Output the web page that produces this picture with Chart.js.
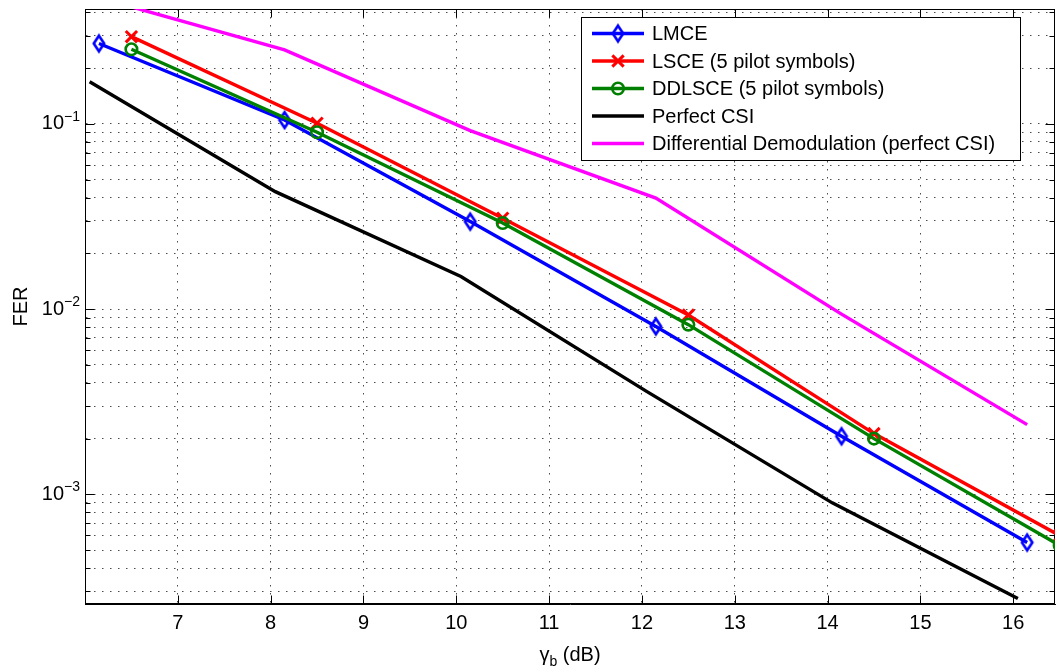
<!DOCTYPE html>
<html><head><meta charset="utf-8">
<script src="https://cdn.jsdelivr.net/npm/chart.js@4/dist/chart.umd.min.js"></script>
<style>html,body{margin:0;padding:0;background:#fff;overflow:hidden}canvas{display:block}</style>
</head><body>
<canvas id="c" width="1059" height="668"></canvas>
<script>
// ---- data ----
const seriesNames = ['LMCE', 'LSCE (5 pilot symbols)', 'DDLSCE (5 pilot symbols)', 'Perfect CSI', 'Differential Demodulation (perfect CSI)'];
const seriesColors = ['#0000ff', '#ff0000', '#008000', '#000000', '#ff00ff'];

const lmceX = [6.15, 8.15, 10.15, 12.15, 14.15, 16.15];
const lmceY = [0.272, 0.105, 0.0297, 0.00807, 0.00206, 0.00055];

const lsceX = [6.5, 8.5, 10.5, 12.5, 14.5, 16.5];
const lsceY = [0.296, 0.101, 0.031, 0.0093, 0.00213, 0.0006];

const ddlsceX = [6.5, 8.5, 10.5, 12.5, 14.5, 16.5];
const ddlsceY = [0.253, 0.0902, 0.0292, 0.00825, 0.0020, 0.00053];

const perfX = [6.05, 8.05, 10.05, 12.05, 14.05, 16.05];
const perfY = [0.169, 0.0431, 0.0150, 0.0036, 0.00090, 0.000274];

const diffX = [6.15, 8.15, 10.15, 12.15, 14.15, 16.15];
const diffY = [0.48, 0.251, 0.092, 0.0398, 0.0094, 0.00238];

const xTicks = [7, 8, 9, 10, 11, 12, 13, 14, 15, 16];
const yTicks = [0.0003, 0.0004, 0.0005, 0.0006, 0.0007, 0.0008, 0.0009,
                0.001, 0.002, 0.003, 0.004, 0.005, 0.006, 0.007, 0.008, 0.009,
                0.01, 0.02, 0.03, 0.04, 0.05, 0.06, 0.07, 0.08, 0.09,
                0.1, 0.2, 0.3, 0.4];
const yDecades = [0.001, 0.01, 0.1];
const yDecadeBase = ['10', '10', '10'];
const yDecadeExp = ['\u22123', '\u22122', '\u22121'];
const xTitleMain = '\u03B3';
const xTitleSub = 'b';
const xTitleRest = ' (dB)';
const yTitle = 'FER';

const X_MIN = 6, X_MAX = 16.45, Y_MIN = 2.56e-4, Y_MAX = 0.4175;
const FONT = '"Liberation Sans", Arial, Helvetica, sans-serif';
const LINE_W = 3.4;

// ---- marker helpers ----
function diamondImage(color) {
  const c = document.createElement('canvas'); c.width = 16; c.height = 22;
  const g = c.getContext('2d'); g.strokeStyle = color; g.lineWidth = 2.6;
  g.beginPath(); g.moveTo(8, 3.2); g.lineTo(13.2, 11); g.lineTo(8, 18.8); g.lineTo(2.8, 11); g.closePath(); g.stroke();
  return c;
}
const diamond = diamondImage(seriesColors[0]);
const pts = (xs, ys) => xs.map((x, i) => ({x: x, y: ys[i]}));
const markerKinds = ['diamond', 'cross', 'circle', null, null];

function makeDataset(i, xs, ys, extra) {
  return Object.assign({
    label: seriesNames[i], data: pts(xs, ys), borderColor: seriesColors[i], backgroundColor: 'transparent',
    borderWidth: LINE_W, fill: false, tension: 0, clip: 0, pointRadius: 0, order: 4 - i
  }, extra || {});
}

const datasets = [
  makeDataset(0, lmceX, lmceY, {pointStyle: diamond, pointRadius: 8, pointHoverRadius: 8}),
  makeDataset(1, lsceX, lsceY, {pointStyle: 'crossRot', pointRadius: 8, pointHoverRadius: 8, pointBorderWidth: 3, pointBorderColor: seriesColors[1]}),
  makeDataset(2, ddlsceX, ddlsceY, {pointStyle: 'circle', pointRadius: 5.75, pointHoverRadius: 5.75, pointBorderWidth: 2.6, pointBorderColor: seriesColors[2], pointBackgroundColor: 'transparent'}),
  makeDataset(3, perfX, perfY),
  makeDataset(4, diffX, diffY)
];

// ---- decoration plugin: MATLAB-like box, inner ticks, exponents, x title, legend ----
const deco = {
  id: 'deco',
  beforeDatasetsDraw(chart) {
    const {ctx, chartArea: a, scales: {x, y}} = chart;
    ctx.save();
    ctx.strokeStyle = '#000'; ctx.lineWidth = 1;
    const L = Math.round(a.left) + 0.5, R = Math.round(a.right) - 0.5, T = Math.round(a.top) + 0.5, B = Math.round(a.bottom) - 0.5;
    ctx.beginPath();
    xTicks.forEach(v => {
      const px = Math.round(x.getPixelForValue(v)) + 0.5;
      ctx.moveTo(px, B); ctx.lineTo(px, B - 8);
      ctx.moveTo(px, T); ctx.lineTo(px, T + 8);
    });
    yTicks.forEach(v => {
      const py = Math.round(y.getPixelForValue(v)) + 0.5;
      const len = yDecades.indexOf(v) >= 0 ? 9 : 5;
      ctx.moveTo(L, py); ctx.lineTo(L + len, py);
      ctx.moveTo(R, py); ctx.lineTo(R - len, py);
    });
    ctx.stroke();
    ctx.strokeRect(L, T, R - L, B - T);
    ctx.restore();
  },
  afterDraw(chart) {
    const {ctx, chartArea: a, scales: {y}} = chart;
    ctx.save();
    ctx.fillStyle = '#000';
    // exponents of the decade labels
    ctx.font = '14px ' + FONT; ctx.textAlign = 'left'; ctx.textBaseline = 'alphabetic';
    yDecades.forEach((v, i) => {
      const py = y.getPixelForValue(v);
      ctx.fillText(yDecadeExp[i], a.left - 21, py - 3);
    });
    // x title with subscript
    const fBig = '20px ' + FONT, fSmall = '14px ' + FONT;
    ctx.font = fBig; const w1 = ctx.measureText(xTitleMain).width, w3 = ctx.measureText(xTitleRest).width;
    ctx.font = fSmall; const w2 = ctx.measureText(xTitleSub).width;
    let sx = (a.left + a.right) / 2 - (w1 + w2 + w3) / 2;
    const base = 661;
    ctx.font = fBig; ctx.fillText(xTitleMain, sx, base); sx += w1;
    ctx.font = fSmall; ctx.fillText(xTitleSub, sx, base + 5); sx += w2;
    ctx.font = fBig; ctx.fillText(xTitleRest, sx, base);

    // legend
    const bx = 581.5, by = 17.5, bw = 439, bh = 143;
    ctx.fillStyle = '#fff'; ctx.fillRect(bx, by, bw, bh);
    ctx.strokeStyle = '#000'; ctx.lineWidth = 1; ctx.strokeRect(bx, by, bw, bh);
    ctx.font = '20px ' + FONT; ctx.textBaseline = 'middle'; ctx.textAlign = 'left';
    seriesNames.forEach((name, i) => {
      const ry = 33.5 + i * 27.5;
      ctx.strokeStyle = seriesColors[i]; ctx.lineWidth = LINE_W;
      ctx.beginPath(); ctx.moveTo(592, ry); ctx.lineTo(644, ry); ctx.stroke();
      const mk = markerKinds[i], cx = 618;
      if (mk === 'diamond') {
        ctx.drawImage(diamond, cx - 8, ry - 11);
      } else if (mk === 'cross') {
        ctx.lineWidth = 3;
        const d = 5.66; ctx.beginPath();
        ctx.moveTo(cx - d, ry - d); ctx.lineTo(cx + d, ry + d);
        ctx.moveTo(cx - d, ry + d); ctx.lineTo(cx + d, ry - d); ctx.stroke();
      } else if (mk === 'circle') {
        ctx.lineWidth = 2.6; ctx.beginPath(); ctx.arc(cx, ry, 5.75, 0, Math.PI * 2); ctx.stroke();
      }
      ctx.fillStyle = '#000';
      ctx.fillText(name, 652, ry + 1);
    });
    ctx.restore();
  }
};

const noPad = s => { s.paddingTop = 0; s.paddingBottom = 0; s.paddingLeft = 0; s.paddingRight = 0; };
const gridColor = 'rgba(0,0,0,0.7)';
new Chart(document.getElementById('c'), {
  type: 'line',
  data: {datasets: datasets},
  plugins: [deco],
  options: {
    responsive: false, animation: false, devicePixelRatio: 1,
    layout: {autoPadding: false, padding: {top: 9, right: 4, left: 0, bottom: 0}},
    plugins: {legend: {display: false}, tooltip: {enabled: false}},
    scales: {
      x: {
        type: 'linear', position: 'bottom', min: X_MIN, max: X_MAX,
        afterBuildTicks: s => { s.ticks = xTicks.map(v => ({value: v})); },
        afterFit: s => { s.height = 64; noPad(s); },
        ticks: {color: '#000', font: {family: FONT, size: 20}, padding: 7, autoSkip: false, maxRotation: 0, callback: v => String(v)},
        grid: {color: gridColor, lineWidth: 1, drawTicks: false},
        border: {display: true, color: '#000', width: 1, dash: [1.5, 6.5]}
      },
      y: {
        type: 'logarithmic', position: 'left', min: Y_MIN, max: Y_MAX,
        afterBuildTicks: s => { s.ticks = yTicks.map(v => ({value: v})); },
        afterFit: s => { s.width = 85; noPad(s); },
        ticks: {color: '#000', font: {family: FONT, size: 20}, padding: 21, autoSkip: false,
                callback: v => { const k = yDecades.indexOf(v); return k >= 0 ? yDecadeBase[k] : ''; }},
        grid: {color: gridColor, lineWidth: 1, drawTicks: false},
        border: {display: true, color: '#000', width: 1, dash: [1.5, 6.5]},
        title: {display: true, text: yTitle, color: '#000', font: {family: FONT, size: 20}, padding: {top: 9, bottom: 0}}
      }
    }
  }
});
</script>
</body></html>
